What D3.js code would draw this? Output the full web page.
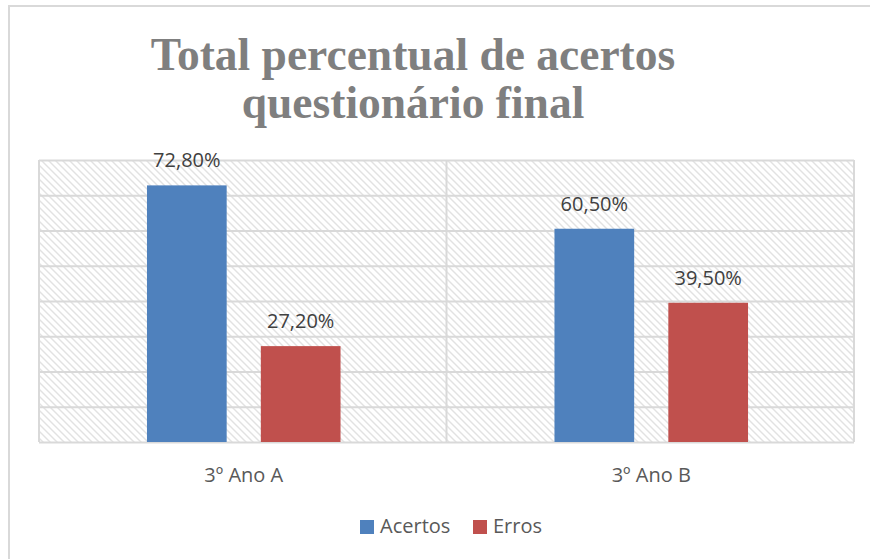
<!DOCTYPE html>
<html>
<head>
<meta charset="utf-8">
<script src="https://cdn.jsdelivr.net/npm/d3@7/dist/d3.min.js"></script>
<style>
  html, body { margin: 0; padding: 0; background: #fff; }
  svg { display: block; }
</style>
</head>
<body>
<svg id="chart" width="870" height="559"></svg>
<script>
// Chart data
const categories = ["3º Ano A", "3º Ano B"];
const seriesNames = ["Acertos", "Erros"];
const acertos = [72.8, 60.5];
const erros = [27.2, 39.5];
const valueLabels = [["72,80%", "27,20%"], ["60,50%", "39,50%"]];
const yTicks = [0, 10, 20, 30, 40, 50, 60, 70, 80];
const titleLines = ["Total percentual de acertos", "questionário final"];

const colors = { "Acertos": "#4f81bd", "Erros": "#c0504d" };
const gridColor = "#d9d9d9";
const textFont = "'Open Sans', 'Liberation Sans', sans-serif";

const svg = d3.select("#chart");

// Outer chart frame (extends past the right and bottom edges)
svg.append("rect")
  .attr("x", 9).attr("y", 6).attr("width", 900).attr("height", 600)
  .attr("fill", "#fff").attr("stroke", gridColor).attr("stroke-width", 2);

// Plot area
const plot = { left: 39, right: 854, top: 160, bottom: 442 };

// Diagonal hatch fill for the plot background
const defs = svg.append("defs");
const pat = defs.append("pattern")
  .attr("id", "hatch")
  .attr("patternUnits", "userSpaceOnUse")
  .attr("width", 7).attr("height", 7);
pat.append("rect").attr("width", 7).attr("height", 7).attr("fill", "#fff");
pat.append("path")
  .attr("d", "M-1,-1 L8,8 M-1,6 L1,8 M6,-1 L8,1")
  .attr("stroke", "#e2e2e2").attr("stroke-width", 1.4);

svg.append("rect")
  .attr("x", plot.left).attr("y", plot.top)
  .attr("width", plot.right - plot.left).attr("height", plot.bottom - plot.top)
  .attr("fill", "url(#hatch)");

// Scales
const x0 = d3.scaleBand().domain(categories).range([plot.left, plot.right]).padding(0);
const groupHalf = x0.bandwidth() * 0.2375;
const x1 = d3.scaleBand().domain(seriesNames).range([-groupHalf, groupHalf]).paddingInner(0.3);
const y = d3.scaleLinear().domain([0, 80]).range([plot.bottom, plot.top]);

// Horizontal gridlines
const gridY = svg.append("g")
  .attr("transform", `translate(${plot.left},0)`)
  .call(d3.axisLeft(y).tickValues(yTicks).tickSize(-(plot.right - plot.left)).tickFormat(""));
gridY.select(".domain").remove();
gridY.selectAll("line").attr("stroke", gridColor).attr("stroke-width", 2);

// Vertical category boundaries
const boundaries = categories.map(c => x0(c)).concat([x0(categories[categories.length - 1]) + x0.bandwidth()]);
svg.append("g").selectAll("line")
  .data(boundaries)
  .join("line")
  .attr("x1", d => d).attr("x2", d => d)
  .attr("y1", plot.top).attr("y2", plot.bottom)
  .attr("stroke", gridColor).attr("stroke-width", 2);

// Bars
const rows = categories.map((c, i) => ({
  category: c,
  values: [
    { series: "Acertos", value: acertos[i], label: valueLabels[i][0] },
    { series: "Erros", value: erros[i], label: valueLabels[i][1] }
  ]
}));

const groups = svg.append("g").selectAll("g")
  .data(rows)
  .join("g")
  .attr("transform", d => `translate(${x0(d.category) + x0.bandwidth() / 2 + 1},0)`);

groups.selectAll("rect")
  .data(d => d.values)
  .join("rect")
  .attr("x", d => x1(d.series))
  .attr("width", x1.bandwidth())
  .attr("y", d => y(d.value))
  .attr("height", d => y(0) - y(d.value))
  .attr("fill", d => colors[d.series]);

groups.selectAll("text")
  .data(d => d.values)
  .join("text")
  .attr("x", d => x1(d.series) + x1.bandwidth() / 2)
  .attr("y", d => y(d.value) - 18)
  .attr("text-anchor", "middle")
  .attr("font-family", textFont)
  .attr("font-size", 20)
  .attr("fill", "#404040")
  .text(d => d.label);

// Category axis labels
const xAxis = svg.append("g")
  .attr("transform", `translate(1,${plot.bottom})`)
  .call(d3.axisBottom(x0).tickSize(0).tickPadding(26));
xAxis.select(".domain").remove();
xAxis.selectAll("text")
  .attr("font-family", textFont)
  .attr("font-size", 20)
  .attr("fill", "#595959");

// Title
const title = svg.append("text")
  .attr("text-anchor", "middle")
  .attr("font-family", "'Liberation Serif', 'Times New Roman', serif")
  .attr("font-weight", "bold")
  .attr("font-size", 45.5)
  .attr("fill", "#7f7f7f");
title.selectAll("tspan")
  .data(titleLines)
  .join("tspan")
  .attr("x", 413)
  .attr("y", (d, i) => 70 + i * 48)
  .text(d => d);

// Legend
const legendItems = [
  { name: "Acertos", x: 360 },
  { name: "Erros", x: 473 }
];
const legend = svg.append("g").selectAll("g")
  .data(legendItems)
  .join("g")
  .attr("transform", d => `translate(${d.x},520)`);
legend.append("rect")
  .attr("width", 14).attr("height", 14)
  .attr("fill", d => colors[d.name]);
legend.append("text")
  .attr("x", 20).attr("y", 13)
  .attr("font-family", textFont)
  .attr("font-size", 20)
  .attr("fill", "#595959")
  .text(d => d.name);
</script>
</body>
</html>
